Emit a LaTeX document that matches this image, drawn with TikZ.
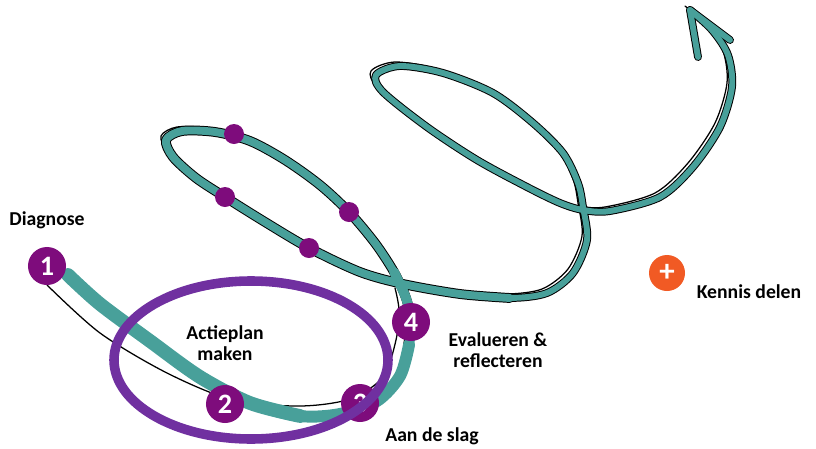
\documentclass[tikz,border=0pt]{standalone}
\usepackage{fontspec}
\setmainfont{Carlito}
\usetikzlibrary{positioning}
\definecolor{spiralteal}{HTML}{48A09A}
\definecolor{stepplum}{HTML}{7E0C7C}
\definecolor{ringpurple}{HTML}{7030A0}
\definecolor{plusorange}{HTML}{F15A24}

\begin{document}
\begin{tikzpicture}[x=0.025cm,y=-0.025cm,
    band/.style={line cap=round,line join=round},
    stepnum/.style={circle,fill=stepplum,text=white,inner sep=0pt,minimum size=0.95cm,
      font=\fontsize{20}{20}\selectfont\bfseries},
    stepdot/.style={circle,fill=stepplum,inner sep=0pt,minimum size=0.5cm},
    lbl/.style={font=\fontsize{14}{14.5}\selectfont\bfseries,align=center}]
  \useasboundingbox (0,0) rectangle (816,448);

  % thin black pen line next to the band
  \draw[band,line width=0.9pt] plot[smooth] coordinates {(47,285) (100,333) (167,373) (233,400) (300,406) (350,399) (383,377) (396,340) (399,310) (395,288)};
  \draw[band,line width=0.9pt,shift={(-5,-4)}] plot[smooth] coordinates {(394,272) (375,243) (349,212) (320,185) (285,160) (250,141) (215,132) (182,131) (166,140) (173,157) (196,178) (225,197) (265,222) (309,248) (360,272) (403,284) (460,294) (510,298) (547,293) (573,273) (587,240) (583,207) (578,183) (563,153) (533,123) (493,93) (443,73) (400,66) (376,75) (383,92) (427,127) (477,160) (527,187) (560,203) (583,210) (610,211) (660,197) (693,167) (720,127) (732,87) (728,55) (712,30) (690,10)};

  % black edge of the band
  \draw[band,line width=5.6pt] plot[smooth] coordinates {(408,345) (411,322) (406,298) (394,272) (375,243) (349,212) (320,185) (285,160) (250,141) (215,132) (182,131) (166,140) (173,157) (196,178) (225,197) (265,222) (309,248) (360,272) (403,284) (460,294) (510,298) (547,293) (573,273) (587,240) (583,207) (578,183) (563,153) (533,123) (493,93) (443,73) (400,66) (376,75) (383,92) (427,127) (477,160) (527,187) (560,203) (583,210) (610,211) (660,197) (693,167) (720,127) (732,87) (728,55) (712,30) (690,10)};
  \draw[band,line width=7pt] plot[smooth] coordinates {(408,345) (411,322) (406,298) (394,272) (375,243) (349,212) (320,185) (285,160) (250,141) (215,132) (182,131) (166,140) (173,157) (196,178) (225,197) (265,222) (309,248) (360,272) (403,284) (460,294) (510,298)};
  \draw[band,line width=5.6pt] (690,10) -- (698,57) (690,10) -- (730,40);

  % teal band, thick at the start
  \draw[band,spiralteal,line width=4.2pt] plot[smooth] coordinates {(408,345) (411,322) (406,298) (394,272) (375,243) (349,212) (320,185) (285,160) (250,141) (215,132) (182,131) (166,140) (173,157) (196,178) (225,197) (265,222) (309,248) (360,272) (403,284) (460,294) (510,298) (547,293) (573,273) (587,240) (583,207) (578,183) (563,153) (533,123) (493,93) (443,73) (400,66) (376,75) (383,92) (427,127) (477,160) (527,187) (560,203) (583,210) (610,211) (660,197) (693,167) (720,127) (732,87) (728,55) (712,30) (690,10)};
  \draw[band,spiralteal,line width=4.2pt] (690,10) -- (698,57) (690,10) -- (730,40);
  \draw[band,spiralteal,line width=5.6pt] plot[smooth] coordinates {(408,345) (411,322) (406,298) (394,272) (375,243) (349,212) (320,185) (285,160) (250,141) (215,132) (182,131) (166,140) (173,157) (196,178) (225,197) (265,222) (309,248) (360,272) (403,284) (460,294) (510,298)};
  \draw[band,spiralteal,line width=7pt] plot[smooth] coordinates {(340,414) (377,401) (400,376) (409,345) (411,322) (406,298) (394,272)};
  \draw[band,spiralteal,line width=8.5pt] plot[smooth] coordinates {(200,377) (250,403) (300,416) (340,414) (377,401) (400,376) (409,345)};
  \draw[band,spiralteal,line width=9.8pt] plot[smooth] coordinates {(68,275) (100,304) (150,341) (200,377) (250,403) (300,416)};

  % dots on the first loop
  \node[stepdot] (d1) at (234,134) {};
  \node[stepdot] (d2) at (225,197) {};
  \node[stepdot] (d3) at (349,212) {};
  \node[stepdot] (d4) at (309,248) {};

  % steps
  \node[stepnum] (s1) at (47,266) {1};
  \node[stepnum] (s2) at (225,404) {2};
  \node[stepnum] (s3) at (360,403) {3};
  \node[stepnum] (s4) at (411,322) {4};

  \draw[ringpurple,line width=6.8pt] (251,360) ellipse [x radius=137,y radius=79];

  \node[circle,fill=plusorange,text=white,inner sep=0pt,minimum size=0.9cm,
    font=\fontsize{22}{22}\selectfont\bfseries] (plus) at (667,273) {+};

  \node[lbl] (diag) at (47,220) {Diagnose};
  \node[lbl] (plan) at (225,343) {Actieplan\\maken};
  \node[lbl] (eval) at (498,350) {Evalueren \&\\reflecteren};
  \node[lbl] (slag) at (432,436) {Aan de slag};
  \node[lbl] (kennis) at (749,292) {Kennis delen};
\end{tikzpicture}
\end{document}
